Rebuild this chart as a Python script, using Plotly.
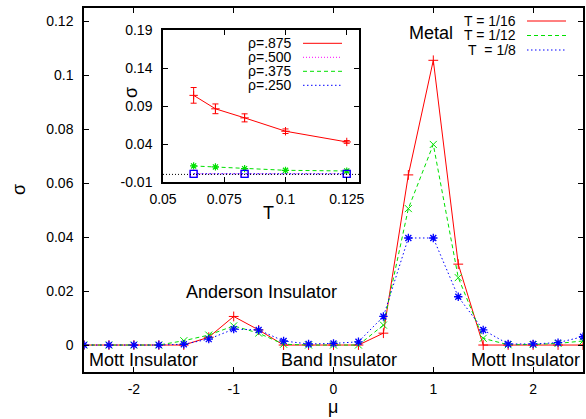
import plotly.graph_objects as go

# ---------------- data ----------------
mu = [-2.5, -2.25, -2.0, -1.75, -1.5, -1.25, -1.0, -0.75, -0.5, -0.25, 0.0,
      0.25, 0.5, 0.75, 1.0, 1.25, 1.5, 1.75, 2.0, 2.25, 2.5]
sigma_T16 = [0, 0, 0, 0, 0, 0.0029, 0.0106, 0.0056, 0, 0, 0,
             0, 0.0044, 0.0631, 0.1056, 0.0300, 0, 0, 0, 0, 0]
sigma_T12 = [0, 0, 0, 0, 0.0016, 0.0037, 0.0071, 0.0044, 0.0003, 0, 0,
             0, 0.0074, 0.0506, 0.0744, 0.0250, 0.0025, 0.0001, 0.0002, 0.0006, 0.0015]
sigma_T8 = [0, 0, 0, 0, 0.0003, 0.0022, 0.0059, 0.0056, 0.0015, 0.0004, 0.0006,
            0.0012, 0.0106, 0.0397, 0.0397, 0.0179, 0.0056, 0.0004, 0.0004, 0.0009, 0.0031]

T_inset = [0.0625, 0.0714, 0.0833, 0.1, 0.125]
rho875 = [0.104, 0.0863, 0.0744, 0.0568, 0.0427]
rho875_err = [0.0103, 0.0064, 0.0053, 0.0030, 0.0018]
rho375 = [0.0111, 0.0098, 0.0076, 0.0054, 0.0045]
T_low = [0.0625, 0.0833, 0.125]
rho500 = [0.0008, 0.0008, 0.0008]
rho250 = [0.0008, 0.0008, 0.0008]

main_xticks = [-2, -1, 0, 1, 2]
main_xticktext = ["-2", "-1", "0", "1", "2"]
main_yticks = [0, 0.02, 0.04, 0.06, 0.08, 0.1, 0.12]
main_yticktext = ["0", "0.02", "0.04", "0.06", "0.08", "0.1", "0.12"]
inset_xticks = [0.05, 0.075, 0.1, 0.125]
inset_xticktext = ["0.05", "0.075", "0.1", "0.125"]
inset_yticks = [-0.01, 0.04, 0.09, 0.14, 0.19]
inset_yticktext = ["-0.01", "0.04", "0.09", "0.14", "0.19"]

legend_main = ["T = 1/16", "T = 1/12", "T\u00a0 = 1/8"]
legend_inset = ["\u03c1=.875", "\u03c1=.500", "\u03c1=.375", "\u03c1=.250"]

RED, GREEN, BLUE, MAG = "#ff0000", "#00e000", "#0000ff", "#ff00ff"
FONT = "Liberation Sans, Arial, sans-serif"

W, H = 586, 419
L, R, T, B = 84, 3, 8, 47
PW, PH = W - L - R, H - T - B


def px(x):
    return (x - L) / PW


def py(y):
    return (H - B - y) / PH


fig = go.Figure()

# main curves
fig.add_trace(go.Scatter(x=mu, y=sigma_T16, mode="lines+markers",
                         line=dict(color=RED, width=1),
                         marker=dict(symbol="cross-thin-open", size=7, color=RED,
                                     line=dict(color=RED, width=1)),
                         showlegend=False))
fig.add_trace(go.Scatter(x=mu, y=sigma_T12, mode="lines+markers",
                         line=dict(color=GREEN, width=1, dash="4px,3px"),
                         marker=dict(symbol="x-thin-open", size=7, color=GREEN,
                                     line=dict(color=GREEN, width=1)),
                         showlegend=False))
fig.add_trace(go.Scatter(x=mu, y=sigma_T8, mode="lines+markers",
                         line=dict(color=BLUE, width=1, dash="1.5px,2.5px"),
                         marker=dict(symbol="asterisk-open", size=7, color=BLUE,
                                     line=dict(color=BLUE, width=1.3)),
                         showlegend=False))

# inset curves
fig.add_trace(go.Scatter(x=T_inset, y=rho875, xaxis="x2", yaxis="y2",
                         mode="lines+markers",
                         line=dict(color=RED, width=1),
                         marker=dict(symbol="cross-thin-open", size=6, color=RED,
                                     line=dict(color=RED, width=1)),
                         error_y=dict(type="data", array=rho875_err, color=RED,
                                      thickness=1, width=3),
                         showlegend=False))
fig.add_trace(go.Scatter(x=T_low, y=rho500, xaxis="x2", yaxis="y2",
                         mode="lines+markers",
                         line=dict(color=MAG, width=1, dash="1px,2px"),
                         marker=dict(symbol="square-open", size=7, color=MAG,
                                     line=dict(color=MAG, width=1)),
                         showlegend=False))
fig.add_trace(go.Scatter(x=T_inset, y=rho375, xaxis="x2", yaxis="y2",
                         mode="lines+markers",
                         line=dict(color=GREEN, width=1, dash="4px,3px"),
                         marker=dict(symbol="asterisk-open", size=6, color=GREEN,
                                     line=dict(color=GREEN, width=1.2)),
                         showlegend=False))
fig.add_trace(go.Scatter(x=T_low, y=rho250, xaxis="x2", yaxis="y2",
                         mode="lines+markers",
                         line=dict(color=BLUE, width=1, dash="1.5px,2.5px"),
                         marker=dict(symbol="square-open", size=7, color=BLUE,
                                     line=dict(color=BLUE, width=1.3)),
                         showlegend=False))

axis_common = dict(showline=True, linecolor="black", linewidth=1.5, mirror="ticks",
                   ticks="inside", ticklen=5, tickwidth=1, tickcolor="black",
                   showgrid=False, zeroline=False, automargin=False,
                   tickfont=dict(family=FONT, size=14, color="black"))

ix0, ix1 = px(163), px(359)
iy0, iy1 = py(182), py(30)

fig.update_layout(
    width=W, height=H, autosize=False,
    margin=dict(l=L, r=R, t=T, b=B, pad=0, autoexpand=False),
    paper_bgcolor="white", plot_bgcolor="white",
    font=dict(family=FONT, size=14, color="black"),
    showlegend=False,
    xaxis=dict(range=[-2.5, 2.5], tickvals=main_xticks, ticktext=main_xticktext,
               domain=[0, 1], ticklabelstandoff=3, **axis_common),
    yaxis=dict(range=[-0.01, 0.125], tickvals=main_yticks, ticktext=main_yticktext,
               domain=[0, 1], ticklabelstandoff=6, **axis_common),
    xaxis2=dict(range=[0.05, 0.13], tickvals=inset_xticks, ticktext=inset_xticktext,
                domain=[ix0, ix1], anchor="y2", ticklabelstandoff=3, **axis_common),
    yaxis2=dict(range=[-0.01, 0.19], tickvals=inset_yticks, ticktext=inset_yticktext,
                domain=[iy0, iy1], anchor="x2", ticklabelstandoff=6, **axis_common),
)

shapes = []
# inset zero axis (black dotted)
shapes.append(dict(type="line", xref="x2 domain", yref="y2", x0=0, x1=1, y0=0, y1=0,
                   line=dict(color="black", width=1, dash="1px,2px")))

annotations = []


def text(x, y, s, size=18, xanchor="center", angle=0, xref="paper", yref="paper"):
    annotations.append(dict(x=x, y=y, xref=xref, yref=yref, text=s, showarrow=False,
                            xanchor=xanchor, yanchor="middle", textangle=angle,
                            font=dict(family=FONT, size=size, color="black")))


# axis titles
text(px(19), py(190), "\u03c3", angle=-90)
text(px(333), py(407), "\u03bc")
text(px(131), py(93), "\u03c3", angle=-90)
text(px(268), py(213), "T")

# region labels (data coordinates)
text(0.974, 0.1158, "Metal", xref="x", yref="y")
text(-0.724, 0.0196, "Anderson Insulator", xref="x", yref="y")
text(-1.899, -0.0056, "Mott Insulator", xref="x", yref="y")
text(0.057, -0.0056, "Band Insulator", xref="x", yref="y")
text(1.92, -0.0056, "Mott Insulator", xref="x", yref="y")

# main legend
main_rows = [21, 35.5, 50]
main_styles = [(RED, "solid"), (GREEN, "4px,3px"), (BLUE, "1.5px,2.5px")]
for lab, yy, (c, d) in zip(legend_main, main_rows, main_styles):
    text(px(518), py(yy), lab, size=14, xanchor="right")
    shapes.append(dict(type="line", xref="paper", yref="paper",
                       x0=px(527), x1=px(566), y0=py(yy), y1=py(yy),
                       line=dict(color=c, width=1, dash=d)))

# inset legend
inset_rows = [43.3, 57.3, 71.3, 85.3]
inset_styles = [(RED, "solid"), (MAG, "1px,2px"), (GREEN, "4px,3px"), (BLUE, "1.5px,2.5px")]
for lab, yy, (c, d) in zip(legend_inset, inset_rows, inset_styles):
    text(px(294), py(yy), lab, size=14, xanchor="right")
    shapes.append(dict(type="line", xref="paper", yref="paper",
                       x0=px(303), x1=px(342), y0=py(yy), y1=py(yy),
                       line=dict(color=c, width=1, dash=d)))

fig.update_layout(shapes=shapes, annotations=annotations)
fig.write_html("out.html", config={"displayModeBar": False, "responsive": False},
               post_script="document.body.style.margin='0';"
                           "document.body.style.overflow='hidden';")
